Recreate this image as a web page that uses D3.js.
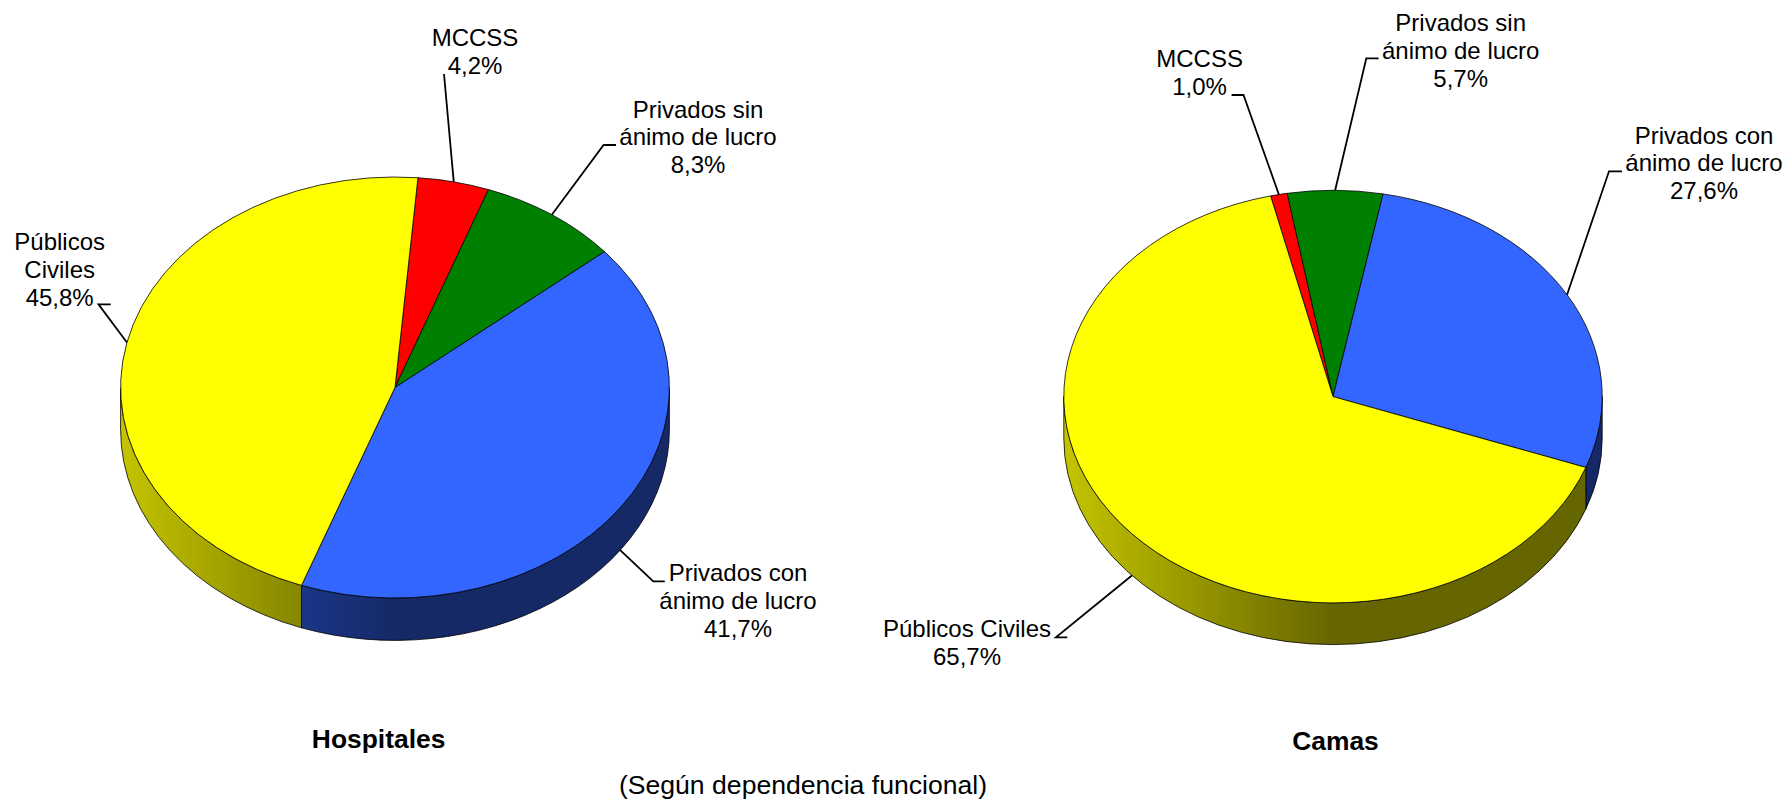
<!DOCTYPE html>
<html>
<head>
<meta charset="utf-8">
<title>Hospitales y camas</title>
<script src="https://cdn.jsdelivr.net/npm/d3@7"></script>
<style>
  html, body { margin: 0; padding: 0; background: #fff; }
  svg { display: block; }
  text { font-family: "Liberation Sans", Arial, sans-serif; fill: #000; }
</style>
</head>
<body>
<div class="chart"></div>
<script>
const categories = ["MCCSS", "Privados sin ánimo de lucro", "Privados con ánimo de lucro", "Públicos Civiles"];
const hospitalesValues = [4.2, 8.3, 41.7, 45.8];
const camasValues = [1.0, 5.7, 27.6, 65.7];
const sliceColors = ["#ff0000", "#008000", "#3366ff", "#ffff00"];

const hospitalesLabels = [
  ["MCCSS", "4,2%"],
  ["Privados sin", "ánimo de lucro", "8,3%"],
  ["Privados con", "ánimo de lucro", "41,7%"],
  ["Públicos", "Civiles", "45,8%"],
];
const camasLabels = [
  ["MCCSS", "1,0%"],
  ["Privados sin", "ánimo de lucro", "5,7%"],
  ["Privados con", "ánimo de lucro", "27,6%"],
  ["Públicos Civiles", "65,7%"],
];

const svgWidth = 1788,
  svgHeight = 801,
  fontSize = 24,
  titleSize = 26.4,
  noteSize = 26.6,
  lineGap = 27.9;

const svg = d3
  .select(".chart")
  .append("svg")
  .attr("width", svgWidth)
  .attr("height", svgHeight);

const defs = svg.append("defs");

// the leader ends on the rim at the middle of each slice, elbow is x1,x2,y
function drawPie(o) {
  const pie = d3
    .pie()
    .sort(null)
    .startAngle(o.start)
    .endAngle(o.start + 2 * Math.PI);
  const arcs = pie(o.values);
  const g = svg.append("g").attr("class", o.id);

  const arc = d3.arc().innerRadius(0).outerRadius(o.ry);

  sliceColors.forEach((c, i) => {
    const grad = defs
      .append("linearGradient")
      .attr("id", `${o.id}-wall-${i}`)
      .attr("gradientUnits", "userSpaceOnUse")
      .attr("x1", o.cx - o.rx)
      .attr("x2", o.cx)
      .attr("y1", 0)
      .attr("y2", 0);
    const shade = d3.interpolateRgb(c, "#000");
    grad.append("stop").attr("offset", 0).attr("stop-color", shade(0.23));
    grad.append("stop").attr("offset", 1).attr("stop-color", shade(0.6));
  });

  const rimX = (t) => o.cx + o.rx * Math.sin(t);
  const rimY = (t) => o.cy - o.ry * Math.cos(t);

  // side wall, only the part of a slice on the front half shows
  const wallPath = (d) => {
    const from = Math.max(d.startAngle, Math.PI / 2);
    const to = Math.min(d.endAngle, 1.5 * Math.PI);
    if (from >= to) return null;
    return (
      `M${rimX(from)},${rimY(from)}` +
      `A${o.rx},${o.ry} 0 0 1 ${rimX(to)},${rimY(to)}` +
      `L${rimX(to)},${rimY(to) + o.depth}` +
      `A${o.rx},${o.ry} 0 0 0 ${rimX(from)},${rimY(from) + o.depth}Z`
    );
  };

  g.selectAll("path.wall")
    .data(arcs)
    .enter()
    .append("path")
    .attr("class", "wall")
    .attr("d", wallPath)
    .attr("fill", (d, i) => `url(#${o.id}-wall-${i})`)
    .attr("stroke", "#000")
    .attr("stroke-width", 0.8);

  g.selectAll("path.top")
    .data(arcs)
    .enter()
    .append("path")
    .attr("class", "top")
    .attr("d", arc)
    .attr("transform", `translate(${o.cx},${o.cy}) scale(${o.rx / o.ry},1)`)
    .attr("fill", (d, i) => sliceColors[i])
    .attr("stroke", "#000")
    .attr("stroke-width", 0.8)
    .attr("vector-effect", "non-scaling-stroke");

  const line = d3.line();

  g.selectAll("path.leader")
    .data(arcs)
    .enter()
    .append("path")
    .attr("class", "leader")
    .attr("d", (d, i) => {
      const mid = (d.startAngle + d.endAngle) / 2;
      const front = Math.cos(mid) < 0 ? o.depth : 0;
      const e = o.elbows[i];
      const pts = e.length === 3 ? [[e[0], e[2]], [e[1], e[2]]] : [[e[0], e[1]]];
      return line([...pts, [rimX(mid), rimY(mid) + front]]);
    })
    .attr("fill", "none")
    .attr("stroke", "#000")
    .attr("stroke-width", 1.8);

  const labels = g
    .selectAll("text.label")
    .data(o.labels)
    .enter()
    .append("text")
    .attr("class", "label")
    .attr("text-anchor", "middle")
    .style("font-size", `${fontSize}px`);

  labels
    .selectAll("tspan")
    .data((d, i) => d.map((t) => ({ t, i })))
    .enter()
    .append("tspan")
    .attr("x", (d) => o.labelPos[d.i][0])
    .attr("y", (d, j) => o.labelPos[d.i][1] + j * lineGap)
    .text((d) => d.t);

  g.append("text")
    .attr("x", o.titleX)
    .attr("y", o.titleY)
    .attr("text-anchor", "middle")
    .style("font-size", `${titleSize}px`)
    .style("font-weight", "bold")
    .text(o.title);
}

drawPie({
  id: "hospitales",
  title: "Hospitales",
  values: hospitalesValues,
  labels: hospitalesLabels,
  start: (4.8 * Math.PI) / 180,
  cx: 395,
  cy: 387.5,
  rx: 274.4,
  ry: 210.5,
  depth: 42.4,
  titleX: 378.6,
  titleY: 748,
  labelPos: [[475, 46], [698, 117.5], [738, 581], [59.7, 250]],
  elbows: [[444, 74], [616, 603.6, 145], [664.8, 653.3, 581.3], [110.7, 98.5, 304.3]],
});

drawPie({
  id: "camas",
  title: "Camas",
  values: camasValues,
  labels: camasLabels,
  start: (-13.4 * Math.PI) / 180,
  cx: 1333,
  cy: 396.6,
  rx: 269.2,
  ry: 206.3,
  depth: 41.7,
  titleX: 1335.5,
  titleY: 750,
  labelPos: [[1199.6, 67], [1460.7, 31], [1704, 143.5], [967, 637]],
  elbows: [[1231.6, 1243.5, 95], [1378.6, 1366.3, 58.3], [1622, 1609, 171.3], [1067.3, 1055.9, 637.3]],
});

svg
  .append("text")
  .attr("x", 803)
  .attr("y", 794)
  .attr("text-anchor", "middle")
  .style("font-size", `${noteSize}px`)
  .text("(Según dependencia funcional)");
</script>
</body>
</html>
